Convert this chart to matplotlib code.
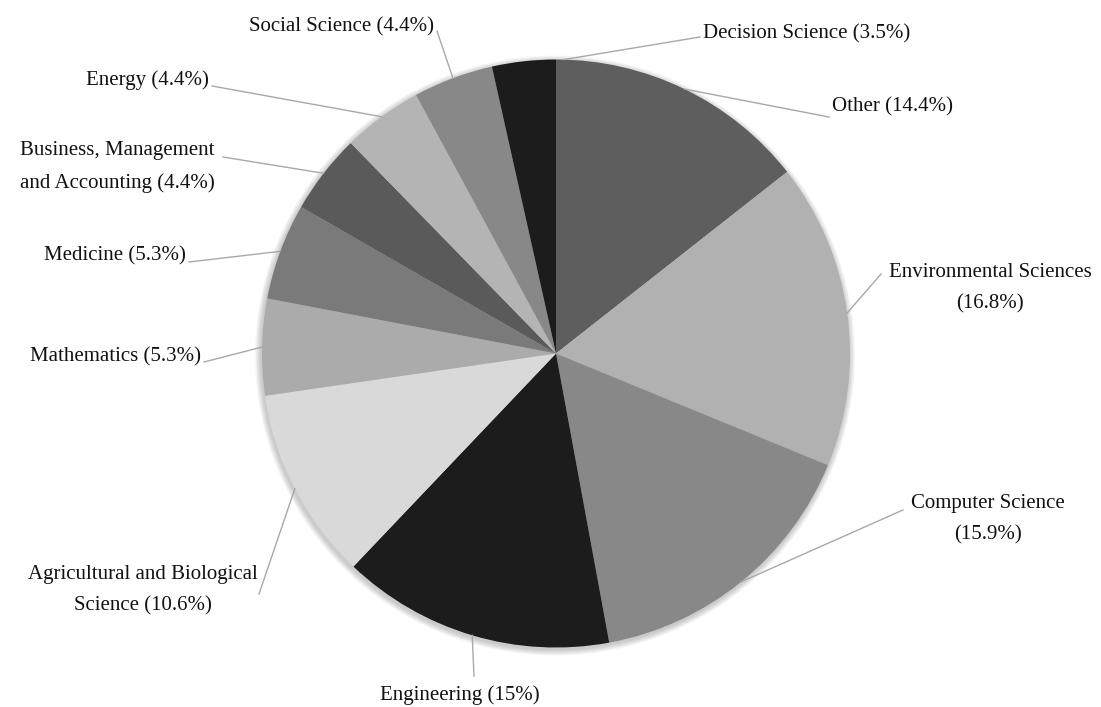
import matplotlib.pyplot as plt
import numpy as np
from matplotlib.patches import Circle

# subject areas, clockwise from 12 o'clock
areas = ['Other', 'Environmental Sciences', 'Computer Science', 'Engineering',
         'Agricultural and Biological Science', 'Mathematics', 'Medicine',
         'Business, Management and Accounting', 'Energy', 'Social Science',
         'Decision Science']
shares = [14.4, 16.8, 15.9, 15.0, 10.6, 5.3, 5.3, 4.4, 4.4, 4.4, 3.5]
label_texts = ['Other (14.4%)', 'Environmental Sciences\n(16.8%)',
               'Computer Science\n(15.9%)', 'Engineering (15%)',
               'Agricultural and Biological\nScience (10.6%)', 'Mathematics (5.3%)',
               'Medicine (5.3%)', 'Business, Management\nand Accounting (4.4%)',
               'Energy (4.4%)', 'Social Science (4.4%)', 'Decision Science (3.5%)']

colors = ['#5e5e5e', '#b1b1b1', '#888888', '#1c1c1c', '#d9d9d9', '#ababab',
          '#7a7a7a', '#5a5a5a', '#b4b4b4', '#888888', '#1c1c1c']

W, H = 1101, 707
cx, cy, R = 556, H - 353.5, 294

# label layout in image pixels (x, y from top): text pos, alignment, leader end
layout = [
    ((832, 107), 'left', (829, 117)),
    ((990, 288), 'center', (881, 274)),
    ((988, 519), 'center', (903, 510)),
    ((460, 695), 'center', (474, 676)),
    ((143, 590), 'center', (259, 594)),
    ((201, 357), 'right', (204, 362)),
    ((186, 256), 'right', (189, 262)),
    ((117, 167), 'center', (223, 157)),
    ((209, 80), 'right', (212, 86)),
    ((434, 27), 'right', (437, 31)),
    ((703, 34), 'left', (700, 37)),
]

fig = plt.figure(figsize=(W / 100, H / 100), dpi=100)
ax = fig.add_axes([0, 0, 1, 1])

# soft shadow
for k in range(6):
    ax.add_patch(Circle((cx - 1, cy - 2), R + 1 + k, color='black',
                        alpha=0.035, lw=0, zorder=0))

wedges, _ = ax.pie(shares, colors=colors, startangle=90, counterclock=False,
                   center=(cx, cy), radius=R, frame=True,
                   wedgeprops=dict(linewidth=0))
ax.set_xlim(0, W)
ax.set_ylim(0, H)
ax.set_aspect('equal')
ax.axis('off')

for i, (w, txt, ((tx, ty), ha, (ex, ey))) in enumerate(zip(wedges, label_texts, layout)):
    mid = (w.theta1 + w.theta2) / 2
    if i == len(wedges) - 1:
        mid = w.theta1 - 1.5  # leader of the last thin slice sits near the top
    mid = np.deg2rad(mid)
    ax_x = cx + R * np.cos(mid)
    ax_y = cy + R * np.sin(mid)
    ax.plot([ax_x, ex], [ax_y, H - ey], color='#a8a8a8', lw=1, zorder=3)
    ax.text(tx, H - ty, txt, ha=ha, va='center', multialignment='center',
            fontsize=15, family='Liberation Serif', color='#111111',
            linespacing=1.85)

fig.savefig('out.png', dpi=100)
